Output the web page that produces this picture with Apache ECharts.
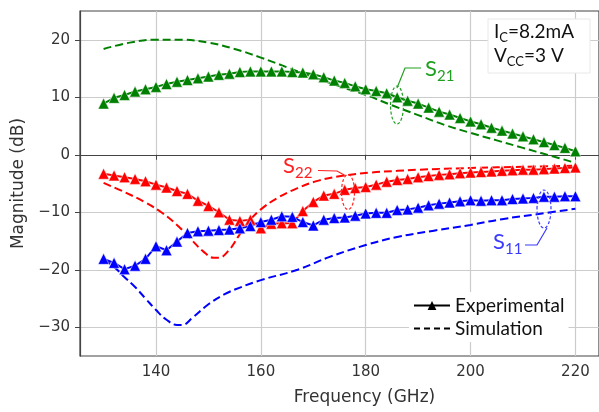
<!DOCTYPE html>
<html><head><meta charset="utf-8">
<script src="https://cdn.jsdelivr.net/npm/echarts@6/dist/echarts.min.js"></script>
<style>html,body{margin:0;padding:0;background:#fff}#c{width:599px;height:412px}</style>
</head><body><div id="c"></div>
<script>
const freqExp = [130,132,134,136,138,140,142,144,146,148,150,152,154,156,158,160,162,164,166,168,170,172,174,176,178,180,182,184,186,188,190,192,194,196,198,200,202,204,206,208,210,212,214,216,218,220];
const s21Exp = [8.9,9.9,10.4,11.0,11.4,11.8,12.3,12.7,13.0,13.3,13.6,13.9,14.1,14.4,14.5,14.5,14.5,14.5,14.4,14.3,14.0,13.5,12.9,12.5,11.9,11.4,11.1,10.7,10.0,9.4,8.9,8.2,7.5,7.0,6.4,5.8,5.3,4.7,4.2,3.7,3.2,2.7,2.2,1.7,1.2,0.6];
const s22Exp = [-3.3,-3.6,-3.9,-4.2,-4.6,-5.2,-5.7,-6.3,-6.8,-8.0,-8.9,-10.0,-11.3,-11.5,-11.3,-12.8,-12.0,-11.9,-11.9,-9.8,-8.2,-7.1,-6.8,-6.1,-5.8,-5.6,-5.2,-4.7,-4.4,-4.2,-3.9,-3.7,-3.5,-3.4,-3.2,-3.1,-3.0,-2.9,-2.8,-2.7,-2.6,-2.6,-2.5,-2.4,-2.3,-2.2];
const s11Exp = [-18.1,-18.8,-19.9,-19.3,-18.1,-15.9,-16.6,-15.1,-13.6,-13.3,-13.2,-13.1,-13.0,-12.8,-12.4,-11.7,-11.3,-10.7,-10.8,-11.7,-12.3,-11.3,-11.0,-10.9,-10.6,-10.2,-10.1,-10.1,-9.6,-9.5,-9.2,-8.8,-8.5,-8.3,-8.1,-7.9,-8.0,-7.9,-7.9,-7.7,-7.6,-7.5,-7.3,-7.3,-7.2,-7.2];

const s21SimF = [130,135,140,145,150,155,160,165,170,175,180,185,190,195,200,205,210,215,220];
const s21Sim  = [18.4,19.5,20.0,20.0,19.5,18.4,16.9,15.2,13.5,11.9,10.4,8.6,6.9,5.2,3.8,2.5,1.2,-0.1,-1.4];
const s22SimF = [130,134,138,141,144,147,149,151,152,154,156,158,160,163,167,171,176,181,186,190,200,210,220];
const s22Sim  = [-4.9,-6.5,-8.3,-10.0,-12.2,-15.0,-16.8,-17.9,-17.9,-16.5,-13.8,-11.3,-9.5,-7.6,-5.8,-4.5,-3.6,-3.1,-2.8,-2.6,-2.3,-2.1,-1.9];
const s11SimF = [130,132,134,136,138,140,142,144,145,147,150,153,156,160,167,173,180,186,193,200,206,213,220];
const s11Sim  = [-18.2,-19.5,-21.3,-23.0,-25.0,-27.0,-28.7,-29.6,-29.6,-28.3,-26.0,-24.3,-23.1,-21.8,-20.0,-17.8,-15.7,-14.3,-13.2,-12.2,-11.2,-10.3,-9.4];

const xTicks = [140,160,180,200,220];
const yTicks = [-30,-20,-10,0,10,20];
const legendNames = ['Experimental','Simulation'];

const GREEN='#008000', RED='#ff0000', BLUE='#0000ff';
const pairs = (xs, ys) => xs.map((x,i)=>[x, ys[i]]);
const dash = [8,4];
const DV = '"DejaVu Sans", Verdana, sans-serif';

function simSeries(name, xs, ys, color){
  return {name, type:'line', data:pairs(xs,ys), smooth:0.4, symbol:'none',
    lineStyle:{color, width:2, type:dash}, z:2, silent:true};
}
function expSeries(name, ys, color){
  return {name, type:'line', data:pairs(freqExp,ys), symbol:'triangle', symbolSize:11,
    itemStyle:{color, borderColor:'#ffffff', borderWidth:0.5},
    lineStyle:{color, width:2}, z:3, silent:true};
}

const chart = echarts.init(document.getElementById('c'), null, {renderer:'canvas'});
const axisFont = {fontFamily:DV, fontSize:15, color:'#333'};
chart.setOption({
  animation:false,
  backgroundColor:'#fff',
  grid:{left:80, top:11, width:521, height:345, show:true, borderColor:'#444', borderWidth:1.2, backgroundColor:'transparent'},
  xAxis:{type:'value', min:125.5, max:224.5,
    name:'Frequency (GHz)', nameLocation:'middle', nameGap:33,
    nameTextStyle:{fontFamily:DV, fontSize:17, color:'#333', padding:[0,0,0,50]},
    axisLine:{lineStyle:{color:'#444', width:1.2}},
    axisTick:{customValues:xTicks, length:5, lineStyle:{color:'#444'}},
    axisLabel:Object.assign({customValues:xTicks, margin:9}, axisFont),
    splitLine:{show:true, lineStyle:{color:'#cccccc', width:1.2}}},
  yAxis:{type:'value', min:-35, max:25,
    name:'Magnitude (dB)', nameLocation:'middle', nameGap:52,
    nameTextStyle:{fontFamily:DV, fontSize:17, color:'#333'},
    axisLine:{show:true, lineStyle:{color:'#444', width:1.2}},
    axisTick:{show:true, customValues:yTicks, length:5, lineStyle:{color:'#444'}},
    axisLabel:Object.assign({customValues:yTicks, margin:10,
      formatter:v => v < 0 ? '\u2212' + Math.abs(v) : String(v)}, axisFont),
    splitLine:{show:true, lineStyle:{color:'#cccccc', width:1.2}}},
  legend:{data:[{name:'Experimental'},{name:'Simulation', itemStyle:{opacity:0}}],
    orient:'vertical', left:409, top:292, itemWidth:36, itemHeight:11, itemGap:4,
    backgroundColor:'#ffffff', padding:[4,4,4,4],
    textStyle:{fontFamily:'Lato', fontSize:19, lineHeight:18, color:'#111'}},
  series:[
    simSeries('S21 sim', s21SimF, s21Sim, GREEN),
    simSeries('S22 sim', s22SimF, s22Sim, RED),
    simSeries('S11 sim', s11SimF, s11Sim, BLUE),
    expSeries('S21 exp', s21Exp, GREEN),
    expSeries('S22 exp', s22Exp, RED),
    expSeries('S11 exp', s11Exp, BLUE),
    {name:'Experimental', type:'line', data:[], symbol:'triangle', symbolSize:11,
      itemStyle:{color:'#000'}, lineStyle:{color:'#000', width:2}},
    {name:'Simulation', type:'line', data:[], symbol:'none', symbolSize:0,
      itemStyle:{color:'#000', opacity:0}, lineStyle:{color:'#000', width:2, type:[6,4], opacity:1}}
  ],
  graphic:[
    {type:'rect', shape:{x:488, y:19, width:102, height:54}, style:{fill:'#fff', stroke:'#e8e8e8', lineWidth:1}, z:10},
    {type:'text', left:494, top:22, z:11, style:{text:'{a|I}{b|C}{a|=8.2mA}', rich:{
      a:{fontFamily:'Lato', fontSize:19, lineHeight:20, verticalAlign:'top', fill:'#111'},
      b:{fontFamily:'Lato', fontSize:13, lineHeight:13, padding:[9,0,0,0], verticalAlign:'top', fill:'#111'}}}},
    {type:'text', left:494, top:46, z:11, style:{text:'{a|V}{b|CC}{a|=3 V}', rich:{
      a:{fontFamily:'Lato', fontSize:19, lineHeight:20, verticalAlign:'top', fill:'#111'},
      b:{fontFamily:'Lato', fontSize:13, lineHeight:13, padding:[9,0,0,0], verticalAlign:'top', fill:'#111'}}}},
    {type:'ellipse', shape:{cx:397, cy:105, rx:6.5, ry:19}, style:{fill:'none', stroke:'#20a020', lineWidth:1.2, lineDash:[3,2]}, z:10},
    {type:'polyline', shape:{points:[[397,88],[405,68],[421,68]]}, style:{fill:'none', stroke:'#20a020', lineWidth:1.2}, z:10},
    {type:'text', left:425, top:58, z:11, style:{text:'{a|S}{b|21}', rich:{
      a:{fontFamily:'Lato', fontSize:22, lineHeight:24, verticalAlign:'top', fill:'#20a020'},
      b:{fontFamily:'Lato', fontSize:15, lineHeight:15, padding:[11,0,0,0], verticalAlign:'top', fill:'#20a020'}}}},
    {type:'ellipse', shape:{cx:348, cy:192, rx:6.5, ry:17.5}, style:{fill:'none', stroke:'#ff2020', lineWidth:1.2, lineDash:[3,2]}, z:10},
    {type:'polyline', shape:{points:[[318,170.5],[337,171],[346,176]]}, style:{fill:'none', stroke:'#ff2020', lineWidth:1.2}, z:10},
    {type:'text', left:283, top:155, z:11, style:{text:'{a|S}{b|22}', rich:{
      a:{fontFamily:'Lato', fontSize:22, lineHeight:24, verticalAlign:'top', fill:'#ff2020'},
      b:{fontFamily:'Lato', fontSize:15, lineHeight:15, padding:[11,0,0,0], verticalAlign:'top', fill:'#ff2020'}}}},
    {type:'ellipse', shape:{cx:544, cy:209, rx:7, ry:19}, style:{fill:'none', stroke:'#3a3aff', lineWidth:1.2, lineDash:[3,2]}, z:10},
    {type:'polyline', shape:{points:[[525,245],[537,245],[547,228]]}, style:{fill:'none', stroke:'#3a3aff', lineWidth:1.2}, z:10},
    {type:'text', left:493, top:231, z:11, style:{text:'{a|S}{b|11}', rich:{
      a:{fontFamily:'Lato', fontSize:22, lineHeight:24, verticalAlign:'top', fill:'#3a3aff'},
      b:{fontFamily:'Lato', fontSize:15, lineHeight:15, padding:[11,0,0,0], verticalAlign:'top', fill:'#3a3aff'}}}}
  ]
});
</script></body></html>
